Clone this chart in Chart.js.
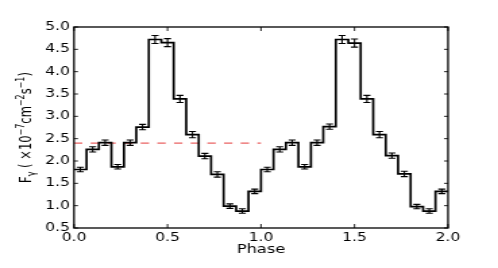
<!DOCTYPE html>
<html><head><meta charset="utf-8">
<script src="https://cdn.jsdelivr.net/npm/chart.js@4/dist/chart.umd.min.js"></script>
<style>
html,body{margin:0;padding:0;background:#fff;overflow:hidden}
#wrap{width:369px;height:268px;transform:scaleX(1.3496);transform-origin:0 0;}
canvas{display:block}
</style></head><body>
<div id="wrap"><canvas id="c" width="369" height="268"></canvas></div>
<script>
// Phase bin edges (15 bins per cycle, two cycles)
const binEdges = [0.000,0.067,0.133,0.200,0.267,0.333,0.400,0.467,0.533,0.600,0.667,0.733,0.800,0.867,0.933,
                  1.000,1.067,1.133,1.200,1.267,1.333,1.400,1.467,1.533,1.600,1.667,1.733,1.800,1.867,1.933,2.000];
// Flux per bin (x10^-7 cm^-2 s^-1)
const flux = [1.81,2.26,2.41,1.87,2.41,2.76,4.72,4.65,3.39,2.59,2.11,1.70,0.99,0.88,1.32,
              1.81,2.26,2.41,1.87,2.41,2.77,4.72,4.64,3.39,2.59,2.12,1.71,0.98,0.88,1.32];
const fluxErr = [0.05,0.06,0.06,0.05,0.06,0.06,0.09,0.09,0.08,0.07,0.06,0.06,0.05,0.05,0.05,
                 0.05,0.06,0.06,0.05,0.06,0.06,0.09,0.09,0.08,0.07,0.06,0.06,0.05,0.05,0.05];
const meanLevel = [2.4, 2.4];
const meanPhase = [0.0, 1.0];
const xTicks = [0.0, 0.5, 1.0, 1.5, 2.0];
const yTicks = [0.5, 1.0, 1.5, 2.0, 2.5, 3.0, 3.5, 4.0, 4.5, 5.0];

const SX = 1.3496; // horizontal stretch of the wrapper
const stepData = [];
flux.forEach((v, i) => {
  stepData.push({x: binEdges[i], y: v});
  stepData.push({x: binEdges[i + 1], y: v});
});
const meanData = meanPhase.map((p, i) => ({x: p, y: meanLevel[i]}));

const FONT = 'DejaVu Sans';

const decor = {
  id: 'decor',
  afterDatasetsDraw(chart) {
    const ctx = chart.ctx, xs = chart.scales.x, ys = chart.scales.y;
    ctx.save();
    ctx.strokeStyle = '#000';
    ctx.lineWidth = 1.1;
    const cap = 2.6;
    flux.forEach((v, i) => {
      const xc = xs.getPixelForValue((binEdges[i] + binEdges[i + 1]) / 2);
      const y1 = ys.getPixelForValue(v - fluxErr[i]);
      const y2 = ys.getPixelForValue(v + fluxErr[i]);
      ctx.beginPath();
      ctx.moveTo(xc, y1); ctx.lineTo(xc, y2);
      ctx.moveTo(xc - cap, y1); ctx.lineTo(xc + cap, y1);
      ctx.moveTo(xc - cap, y2); ctx.lineTo(xc + cap, y2);
      ctx.stroke();
    });
    ctx.restore();
  },
  afterDraw(chart) {
    const ctx = chart.ctx, a = chart.chartArea, xs = chart.scales.x, ys = chart.scales.y;
    ctx.save();
    // inward ticks
    ctx.strokeStyle = '#222';
    ctx.lineWidth = 1;
    ctx.beginPath();
    xTicks.forEach(t => {
      const x = xs.getPixelForValue(t);
      ctx.moveTo(x, a.bottom); ctx.lineTo(x, a.bottom - 4);
      ctx.moveTo(x, a.top); ctx.lineTo(x, a.top + 4);
    });
    yTicks.forEach(t => {
      const y = ys.getPixelForValue(t);
      ctx.moveTo(a.left, y); ctx.lineTo(a.left + 4 / SX, y);
      ctx.moveTo(a.right, y); ctx.lineTo(a.right - 4 / SX, y);
    });
    ctx.stroke();
    // frame
    ctx.strokeStyle = '#000';
    ctx.lineWidth = 1.3;
    ctx.strokeRect(a.left, a.top, a.right - a.left, a.bottom - a.top);
    // x title
    ctx.fillStyle = '#000';
    ctx.font = '12px "' + FONT + '"';
    ctx.textAlign = 'center';
    ctx.textBaseline = 'alphabetic';
    ctx.fillText('Phase', (a.left + a.right) / 2, 253);
    // y title (rich text)
    const parts = [
      {t: 'F', s: 11.5, dy: 0},
      {t: 'γ', s: 8, dy: 3},
      {t: ' ( ', s: 11.5, dy: 0},
      {t: '×10', s: 11.5, dy: 0},
      {t: '−7', s: 8, dy: -4.5},
      {t: 'cm', s: 11.5, dy: 0},
      {t: '−2', s: 8, dy: -4.5},
      {t: 's', s: 11.5, dy: 0},
      {t: '−1', s: 8, dy: -4.5},
      {t: ')', s: 11.5, dy: 0}
    ];
    let total = 0;
    parts.forEach(p => { ctx.font = p.s + 'px "' + FONT + '"'; p.w = ctx.measureText(p.t).width; total += p.w; });
    ctx.translate(22.5, (a.top + a.bottom) / 2);
    ctx.rotate(-Math.PI / 2);
    ctx.textAlign = 'left';
    ctx.textBaseline = 'alphabetic';
    let xPos = -total / 2;
    parts.forEach(p => {
      ctx.font = p.s + 'px "' + FONT + '"';
      ctx.fillText(p.t, xPos, p.dy);
      xPos += p.w;
    });
    ctx.restore();
  }
};

new Chart(document.getElementById('c'), {
  type: 'line',
  data: {
    datasets: [
      {data: stepData, borderColor: '#000', borderWidth: 1.7, pointRadius: 0, tension: 0, fill: false},
      {data: meanData, borderColor: 'rgba(230,70,70,0.85)', borderWidth: 1.3, borderDash: [6.2, 6.15], pointRadius: 0, fill: false}
    ]
  },
  options: {
    responsive: false,
    animation: false,
    devicePixelRatio: 1,
    events: [],
    layout: {padding: {top: 27, right: 37.05, left: 0, bottom: 0}},
    plugins: {legend: {display: false}, tooltip: {enabled: false}, title: {display: false}},
    scales: {
      x: {
        type: 'linear', min: 0, max: 2,
        afterBuildTicks: s => { s.ticks = xTicks.map(v => ({value: v})); },
        afterFit: s => { s.height = 40; },
        grid: {display: false, drawTicks: false},
        border: {display: false},
        ticks: {padding: 3, color: '#000', maxRotation: 0, autoSkip: false,
                font: {family: FONT, size: 11.5}, callback: v => Number(v).toFixed(1)}
      },
      y: {
        type: 'linear', min: 0.5, max: 5.0,
        afterBuildTicks: s => { s.ticks = yTicks.map(v => ({value: v})); },
        afterFit: s => { s.width = 54.83; },
        grid: {display: false, drawTicks: false},
        border: {display: false},
        ticks: {padding: 3, color: '#000', autoSkip: false,
                font: {family: FONT, size: 11.5}, callback: v => Number(v).toFixed(1)}
      }
    }
  },
  plugins: [decor]
});
</script>
</body></html>
